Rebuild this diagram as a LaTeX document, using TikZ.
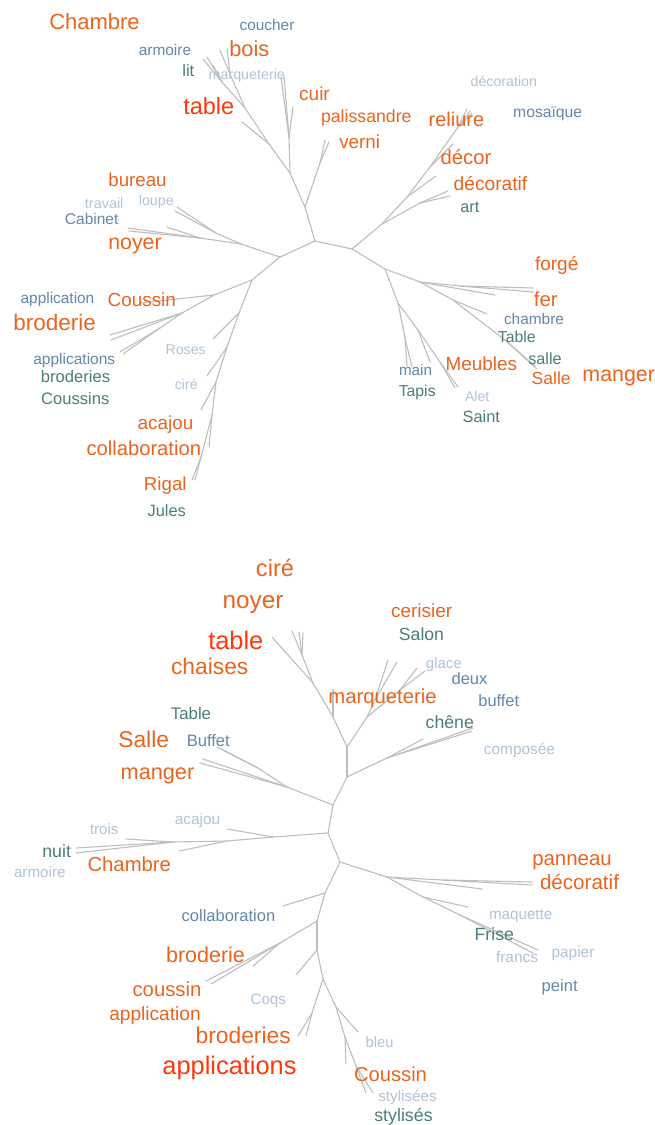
\documentclass[tikz,border=0pt]{standalone}
\usepackage{fontspec}
\setmainfont{Liberation Sans}
\definecolor{cOr}{RGB}{234,100,30}
\definecolor{cRd}{RGB}{255,55,10}
\definecolor{cTe}{RGB}{75,125,125}
\definecolor{cBl}{RGB}{100,135,170}
\definecolor{cLi}{RGB}{175,196,216}
\definecolor{cEd}{RGB}{190,190,190}
\newcommand\fsz[1]{\fontsize{#1}{#1}\selectfont}
\tikzset{
  lab/.style={anchor=base, inner sep=0pt, outer sep=0pt},
  wo/.style={lab, text=cOr}, wr/.style={lab, text=cRd}, wt/.style={lab, text=cTe},
  wb/.style={lab, text=cBl}, wl/.style={lab, text=cLi},
  edge/.style={draw=cEd, line width=1.1pt, line cap=round}
}
\begin{document}
\begin{tikzpicture}[x=1pt,y=-1pt]
\fill[white] (0,0) rectangle (655,1125);
\useasboundingbox (0,0) rectangle (655,1125);
% ---------------- top tree: junctions and tips
\coordinate (A) at (315,241); \coordinate (B) at (352,249); \coordinate (C) at (280,257);
\coordinate (U) at (305,207); \coordinate (V1) at (320,163);
\coordinate (v1) at (325,140); \coordinate (v2) at (329,142);
\coordinate (U2) at (290,173); \coordinate (M) at (289,137);
\coordinate (m1) at (281,77); \coordinate (m2) at (284,76); \coordinate (m3) at (293,107);
\coordinate (T) at (269,144); \coordinate (t1) at (242,122);
\coordinate (T2) at (245,108); \coordinate (T3) at (230,74); \coordinate (T4) at (222,82);
\coordinate (t2) at (220,50); \coordinate (t3) at (227,49);
\coordinate (t4) at (203,59); \coordinate (t5) at (207,57); \coordinate (t6) at (213,65);
\coordinate (N) at (241,244); \coordinate (N1) at (216,233); \coordinate (N2) at (200,238);
\coordinate (n1) at (177,207); \coordinate (n2) at (175,211);
\coordinate (n3) at (128,228); \coordinate (n4) at (129,231); \coordinate (n5) at (167,227);
\coordinate (D) at (252,280); \coordinate (E) at (214,295); \coordinate (e1) at (140,303);
\coordinate (E2) at (182,313); \coordinate (e2) at (110,335); \coordinate (e3) at (111,340);
\coordinate (E3) at (160,328); \coordinate (e4) at (120,352); \coordinate (e5) at (123,354);
\coordinate (F1) at (239,313); \coordinate (f1) at (213,339);
\coordinate (F2) at (227,347); \coordinate (f2) at (207,376);
\coordinate (F3) at (216,382); \coordinate (f3) at (201,410);
\coordinate (F4) at (212,415); \coordinate (f4) at (209,447);
\coordinate (F5) at (201,457); \coordinate (f5) at (192,480); \coordinate (f6) at (195,480);
\coordinate (R1) at (382,224); \coordinate (R1a) at (420,203);
\coordinate (r1) at (448,191); \coordinate (r2) at (450,196);
\coordinate (R2) at (407,197); \coordinate (r3) at (436,176);
\coordinate (R3) at (430,167); \coordinate (r4) at (453,144);
\coordinate (R4) at (458,127); \coordinate (r5) at (467,109); \coordinate (r6) at (470,111); \coordinate (r7) at (472,113);
\coordinate (S) at (385,269); \coordinate (S1) at (420,282); \coordinate (S1a) at (460,286);
\coordinate (s1) at (533,288); \coordinate (s2) at (534,292); \coordinate (s3) at (495,295);
\coordinate (S3) at (453,300); \coordinate (s4) at (487,314);
\coordinate (S4) at (505,340); \coordinate (s5) at (535,366); \coordinate (s6) at (537,369);
\coordinate (P) at (398,303); \coordinate (P1) at (405,338);
\coordinate (p1) at (407,366); \coordinate (p2) at (412,367);
\coordinate (P2) at (418,330); \coordinate (p3) at (430,362);
\coordinate (P3) at (440,362); \coordinate (p4) at (455,388); \coordinate (p5) at (458,387);
\foreach \a/\b in {A/B,A/C,A/U,U/V1,V1/v1,V1/v2,U/U2,U2/M,M/m1,M/m2,M/m3,U2/T,T/t1,T/T2,T2/T3,T3/t2,T3/t3,T2/T4,T4/t4,T4/t5,T4/t6,
  C/N,N/N1,N1/n1,N1/n2,N/N2,N2/n3,N2/n4,N2/n5,C/D,D/E,E/e1,E/E2,E2/e2,E2/e3,E2/E3,E3/e4,E3/e5,
  D/F1,F1/f1,F1/F2,F2/f2,F2/F3,F3/f3,F3/F4,F4/f4,F4/F5,F5/f5,F5/f6,
  B/R1,R1/R1a,R1a/r1,R1a/r2,R1/R2,R2/r3,R2/R3,R3/r4,R3/R4,R4/r5,R4/r6,R4/r7,
  B/S,S/S1,S1/S1a,S1a/s1,S1a/s2,S1/s3,S1/S3,S3/s4,S3/S4,S4/s5,S4/s6,
  S/P,P/P1,P1/p1,P1/p2,P/P2,P2/p3,P2/P3,P3/p4,P3/p5}
  \draw[edge] (\a) -- (\b);
% ---------------- bottom tree
\coordinate (Y) at (347,777); \coordinate (Z) at (347,747); \coordinate (X1) at (333,805);
\coordinate (X2) at (328,833); \coordinate (X3) at (340,862);
\coordinate (Y1) at (387,758); \coordinate (y1) at (473,728); \coordinate (y2) at (472,731); \coordinate (y3) at (423,739);
\coordinate (Z1) at (333,717); \coordinate (z1) at (333,690);
\coordinate (Z2) at (313,683); \coordinate (z2) at (272,637);
\coordinate (Z3) at (302,655); \coordinate (z3) at (292,631); \coordinate (z4) at (299,632); \coordinate (z5) at (303,633);
\coordinate (Q) at (367,717); \coordinate (Q1) at (375,700);
\coordinate (q1) at (388,660); \coordinate (q2) at (397,662);
\coordinate (Q2) at (400,690); \coordinate (q3) at (417,668); \coordinate (q4) at (425,671);
\coordinate (W) at (287,787); \coordinate (w1) at (200,763); \coordinate (w2) at (203,759);
\coordinate (W2) at (258,768); \coordinate (w3) at (217,747); \coordinate (w4) at (221,749);
\coordinate (K1) at (273,837); \coordinate (k1) at (227,829);
\coordinate (K2) at (227,841); \coordinate (k2) at (179,851);
\coordinate (K3) at (173,842); \coordinate (k3) at (126,839); \coordinate (k4) at (76,848); \coordinate (k5) at (76,853);
\coordinate (G) at (387,877); \coordinate (G1) at (443,880);
\coordinate (g1) at (532,882); \coordinate (g2) at (532,885); \coordinate (g3) at (482,889);
\coordinate (G2) at (423,897); \coordinate (g4) at (468,907);
\coordinate (G3) at (460,915); \coordinate (g5) at (538,950); \coordinate (g6) at (533,953);
\coordinate (H) at (325,893); \coordinate (h1) at (283,906);
\coordinate (H2) at (317,921); \coordinate (H3) at (280,943);
\coordinate (h2) at (206,981); \coordinate (h3) at (211,984); \coordinate (h4) at (253,966);
\coordinate (H4) at (317,950); \coordinate (h5) at (296,975);
\coordinate (H5) at (323,979); \coordinate (H6) at (312,1013);
\coordinate (h6) at (298,1036); \coordinate (h7) at (306,1036);
\coordinate (H7) at (336,1007); \coordinate (h8) at (358,1032);
\coordinate (H8) at (345,1037); \coordinate (h9) at (346,1064);
\coordinate (H9) at (356,1066); \coordinate (h10) at (366,1093); \coordinate (h11) at (373,1093);
\foreach \a/\b in {Y/Z,Y/X1,X1/X2,X2/X3,Y/Y1,Y1/y1,Y1/y2,Y1/y3,
  Z/Z1,Z1/z1,Z1/Z2,Z2/z2,Z2/Z3,Z3/z3,Z3/z4,Z3/z5,Z/Q,Q/Q1,Q1/q1,Q1/q2,Q/Q2,Q2/q3,Q2/q4,
  X1/W,W/w1,W/w2,W/W2,W2/w3,W2/w4,
  X2/K1,K1/k1,K1/K2,K2/k2,K2/K3,K3/k3,K3/k4,K3/k5,
  X3/G,G/G1,G1/g1,G1/g2,G/g3,G/G2,G2/g4,G2/G3,G3/g5,G3/g6,
  X3/H,H/h1,H/H2,H2/H3,H3/h2,H3/h3,H3/h4,H2/H4,H4/h5,H4/H5,H5/H6,H6/h6,H6/h7,H5/H7,H7/h8,H7/H8,H8/h9,H8/H9,H9/h10,H9/h11}
  \draw[edge] (\a) -- (\b);
% ---------------- top labels
\node[wo, font=\fsz{22}] (a1) at (94.5,29.3) {Chambre};
\node[wb, font=\fsz{15.4}] (a2) at (267,30) {coucher};
\node[wb, font=\fsz{15.4}] (a3) at (165,55.3) {armoire};
\node[wo, font=\fsz{21.8}] (a4) at (249.3,56) {bois};
\node[wt, font=\fsz{16.5}] (a5) at (188.3,76) {lit};
\node[wl, font=\fsz{14.3}] (a6) at (246.8,79) {marqueterie};
\node[wr, font=\fsz{23.5}] (a7) at (208.8,114.3) {table};
\node[wo, font=\fsz{19}] (a8) at (314.5,100.7) {cuir};
\node[wo, font=\fsz{17.7}] (a9) at (366.3,122.7) {palissandre};
\node[wo, font=\fsz{18.8}] (a10) at (359.7,148.7) {verni};
\node[wo, font=\fsz{20}] (a11) at (456.5,126) {reliure};
\node[wl, font=\fsz{14.2}] (a12) at (503.8,86.7) {décoration};
\node[wb, font=\fsz{15.7}] (a13) at (547.7,117.7) {mosaïque};
\node[wo, font=\fsz{20.3}] (a14) at (466,164.3) {décor};
\node[wo, font=\fsz{19.2}] (a15) at (490.5,190) {décoratif};
\node[wt, font=\fsz{16.3}] (a16) at (469.8,212) {art};
\node[wo, font=\fsz{18.7}] (a17) at (137.5,186.7) {bureau};
\node[wl, font=\fsz{14.4}] (a18) at (104.2,208.3) {travail};
\node[wl, font=\fsz{14.2}] (a19) at (156.3,205.7) {loupe};
\node[wb, font=\fsz{15.5}] (a20) at (91.7,224) {Cabinet};
\node[wo, font=\fsz{21.3}] (a21) at (135,249) {noyer};
\node[wb, font=\fsz{15.4}] (a22) at (57.5,303.3) {application};
\node[wo, font=\fsz{18.9}] (a23) at (141.8,306.7) {Coussin};
\node[wo, font=\fsz{22.5}] (a24) at (54.7,330.7) {broderie};
\node[wb, font=\fsz{15.5}] (a25) at (74.3,364.3) {applications};
\node[wt, font=\fsz{16.6}] (a26) at (75.5,382.3) {broderies};
\node[wt, font=\fsz{16.6}] (a27) at (75.2,404) {Coussins};
\node[wl, font=\fsz{14.1}] (a28) at (185.7,354) {Roses};
\node[wl, font=\fsz{14.1}] (a29) at (186.3,389.3) {ciré};
\node[wo, font=\fsz{18.9}] (a30) at (165.5,429) {acajou};
\node[wo, font=\fsz{20.2}] (a31) at (143.8,455) {collaboration};
\node[wo, font=\fsz{18.7}] (a32) at (165.3,490.7) {Rigal};
\node[wt, font=\fsz{16.4}] (a33) at (166.8,516) {Jules};
\node[wo, font=\fsz{19}] (a34) at (556.7,270.7) {forgé};
\node[wo, font=\fsz{20.3}] (a35) at (545.8,306.7) {fer};
\node[wb, font=\fsz{15.4}] (a36) at (534,324.3) {chambre};
\node[wt, font=\fsz{15.8}] (a37) at (516.8,342.3) {Table};
\node[wt, font=\fsz{16.2}] (a38) at (545,364) {salle};
\node[wo, font=\fsz{17.5}] (a39) at (551.2,384) {Salle};
\node[wo, font=\fsz{21.4}] (a40) at (618.7,381.7) {manger};
\node[wo, font=\fsz{18.9}] (a41) at (481.3,370) {Meubles};
\node[wb, font=\fsz{15.2}] (a42) at (415.5,375.3) {main};
\node[wt, font=\fsz{15.8}] (a43) at (417.2,396) {Tapis};
\node[wl, font=\fsz{14.1}] (a44) at (477.2,401.7) {Alet};
\node[wt, font=\fsz{16.4}] (a45) at (481.3,422.7) {Saint};
% ---------------- bottom labels
\node[wo, font=\fsz{23.6}] (b1) at (275,576.7) {ciré};
\node[wo, font=\fsz{24.3}] (b2) at (253,608.3) {noyer};
\node[wr, font=\fsz{25.4}] (b3) at (235.8,649.3) {table};
\node[wo, font=\fsz{22.8}] (b4) at (209.7,674.3) {chaises};
\node[wo, font=\fsz{19}] (b5) at (421.7,617.7) {cerisier};
\node[wt, font=\fsz{17.6}] (b6) at (421.5,640) {Salon};
\node[wl, font=\fsz{14.9}] (b7) at (443.8,668.3) {glace};
\node[wb, font=\fsz{16.5}] (b8) at (469.5,684.3) {deux};
\node[wb, font=\fsz{16.4}] (b9) at (498.8,706.7) {buffet};
\node[wo, font=\fsz{20.3}] (b10) at (382.5,703.3) {marqueterie};
\node[wt, font=\fsz{16.8}] (b11) at (191,719.3) {Table};
\node[wo, font=\fsz{22.8}] (b12) at (143.7,747.3) {Salle};
\node[wb, font=\fsz{16.6}] (b13) at (208.3,746.7) {Buffet};
\node[wo, font=\fsz{21.7}] (b14) at (157.5,779.3) {manger};
\node[wt, font=\fsz{17.7}] (b15) at (449.8,728.3) {chêne};
\node[wl, font=\fsz{15.4}] (b16) at (519.5,754.3) {composée};
\node[wl, font=\fsz{15.3}] (b17) at (197.5,824) {acajou};
\node[wl, font=\fsz{15}] (b18) at (104.2,834) {trois};
\node[wt, font=\fsz{17.8}] (b19) at (56.7,857.3) {nuit};
\node[wo, font=\fsz{20.3}] (b20) at (129.3,871.7) {Chambre};
\node[wl, font=\fsz{15.2}] (b21) at (39.8,877.7) {armoire};
\node[wb, font=\fsz{16.5}] (b22) at (228.5,921.7) {collaboration};
\node[wo, font=\fsz{21.5}] (b23) at (205.5,962.7) {broderie};
\node[wo, font=\fsz{20.3}] (b24) at (167,996.7) {coussin};
\node[wo, font=\fsz{19.1}] (b25) at (155,1020.7) {application};
\node[wl, font=\fsz{15.1}] (b26) at (268.3,1004.3) {Coqs};
\node[wo, font=\fsz{22.8}] (b27) at (243.2,1043.3) {broderies};
\node[wr, font=\fsz{25.4}] (b28) at (229.5,1074) {applications};
\node[wo, font=\fsz{20.4}] (b29) at (572,865.7) {panneau};
\node[wo, font=\fsz{20.6}] (b30) at (579.5,889.3) {décoratif};
\node[wl, font=\fsz{15.2}] (b31) at (520.7,919) {maquette};
\node[wt, font=\fsz{17.7}] (b32) at (494.3,940) {Frise};
\node[wl, font=\fsz{15.4}] (b33) at (517,962.7) {francs};
\node[wl, font=\fsz{15.4}] (b34) at (573,957.7) {papier};
\node[wb, font=\fsz{16.6}] (b35) at (559.7,991) {peint};
\node[wl, font=\fsz{14.8}] (b36) at (379.7,1047.7) {bleu};
\node[wo, font=\fsz{20.2}] (b37) at (390.5,1081) {Coussin};
\node[wl, font=\fsz{15.2}] (b38) at (407.5,1101.7) {stylisées};
\node[wt, font=\fsz{17.8}] (b39) at (403.5,1121.7) {stylisés};
\end{tikzpicture}
\end{document}
